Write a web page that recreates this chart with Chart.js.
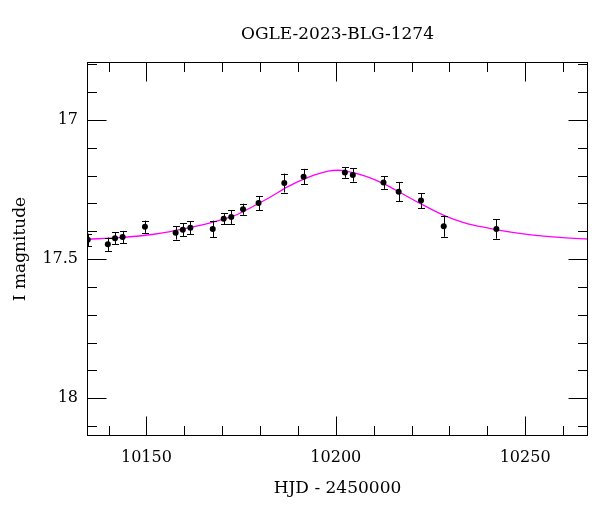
<!DOCTYPE html>
<html><head><meta charset="utf-8">
<script src="https://cdn.jsdelivr.net/npm/chart.js@4"></script>
<style>html,body{margin:0;padding:0;background:#fff}</style>
</head><body>
<canvas id="c" width="600" height="512"></canvas>
<script>
const chartTitle = 'OGLE-2023-BLG-1274';
const xTitle = 'HJD - 2450000';
const yTitle = 'I magnitude';

// observations (HJD - 2450000, I mag, error)
const obsHjd = [10134.5, 10139.8, 10141.7, 10143.7, 10149.6, 10157.7, 10159.6, 10161.6, 10167.5, 10170.4, 10172.4, 10175.5, 10179.6, 10186.4, 10191.5, 10202.4, 10204.5, 10212.6, 10216.6, 10222.5, 10228.5, 10242.4];
const obsMag = [17.431, 17.447, 17.425, 17.421, 17.384, 17.406, 17.395, 17.388, 17.392, 17.355, 17.349, 17.321, 17.299, 17.227, 17.204, 17.189, 17.198, 17.225, 17.258, 17.290, 17.382, 17.392];
const obsErr = [0.022, 0.024, 0.022, 0.022, 0.022, 0.024, 0.023, 0.023, 0.030, 0.020, 0.025, 0.020, 0.025, 0.034, 0.028, 0.019, 0.024, 0.023, 0.035, 0.027, 0.038, 0.035];

// model curve
const modelHjd = [10134.3, 10143, 10152, 10160.5, 10169, 10174, 10178, 10182.5, 10187.5, 10193, 10198, 10200.5, 10203, 10208, 10213, 10217, 10222.5, 10229, 10234, 10238, 10242.5, 10251, 10260, 10266.6];
const modelMag = [17.429, 17.423, 17.411, 17.390, 17.362, 17.340, 17.312, 17.279, 17.239, 17.205, 17.184, 17.181, 17.185, 17.203, 17.232, 17.261, 17.302, 17.346, 17.370, 17.383, 17.395, 17.412, 17.423, 17.428];

const xRange = [10134.3, 10266.6];
const yRange = [16.792, 18.136];
const xSteps = [50, 10];   // major, minor
const ySteps = [0.5, 0.1];

const FONT = 'DejaVu Serif';
const isMult = (v, s) => Math.abs(v / s - Math.round(v / s)) < 1e-6;

const framePlugin = {
  id: 'frame',
  afterDatasetsDraw(chart) {
    const {ctx, chartArea: ca, scales: {x, y}} = chart;
    ctx.save();
    ctx.beginPath();
    ctx.rect(ca.left, ca.top, ca.right - ca.left, ca.bottom - ca.top);
    ctx.clip();
    ctx.strokeStyle = '#000';
    ctx.lineWidth = 1;
    obsHjd.forEach((h, i) => {
      const px = Math.round(x.getPixelForValue(h)) + 0.5;
      const y1 = y.getPixelForValue(obsMag[i] - obsErr[i]);
      const y2 = y.getPixelForValue(obsMag[i] + obsErr[i]);
      ctx.beginPath();
      ctx.moveTo(px, y1); ctx.lineTo(px, y2);
      ctx.moveTo(px - 3.5, Math.round(y1) + 0.5); ctx.lineTo(px + 3.5, Math.round(y1) + 0.5);
      ctx.moveTo(px - 3.5, Math.round(y2) + 0.5); ctx.lineTo(px + 3.5, Math.round(y2) + 0.5);
      ctx.stroke();
    });
    ctx.restore();
  },
  afterDraw(chart) {
    const {ctx, chartArea: ca, scales: {x, y}} = chart;
    const L = Math.round(ca.left) + 0.5, R = Math.round(ca.right) - 0.5;
    const T = Math.round(ca.top) + 0.5, B = Math.round(ca.bottom) - 0.5;
    ctx.save();
    ctx.strokeStyle = '#000';
    ctx.lineWidth = 1;
    ctx.strokeRect(L, T, R - L, B - T);
    ctx.beginPath();
    x.ticks.forEach(t => {
      const major = isMult(t.value, xSteps[0]);
      if (!major && !isMult(t.value, xSteps[1])) return;
      const len = major ? 19 : 9.5;
      const px = Math.round(x.getPixelForValue(t.value)) + 0.5;
      ctx.moveTo(px, B); ctx.lineTo(px, B - len);
      ctx.moveTo(px, T); ctx.lineTo(px, T + len);
    });
    y.ticks.forEach(t => {
      const major = isMult(t.value, ySteps[0]);
      if (!major && !isMult(t.value, ySteps[1])) return;
      const len = major ? 19 : 9.5;
      const py = Math.round(y.getPixelForValue(t.value)) + 0.5;
      ctx.moveTo(L, py); ctx.lineTo(L + len, py);
      ctx.moveTo(R, py); ctx.lineTo(R - len, py);
    });
    ctx.stroke();
    ctx.restore();
  }
};

new Chart(document.getElementById('c').getContext('2d'), {
  type: 'scatter',
  data: {
    datasets: [
      {
        type: 'line',
        label: 'model',
        data: modelHjd.map((h, i) => ({x: h, y: modelMag[i]})),
        borderColor: '#ff00ff',
        borderWidth: 1.3,
        pointRadius: 0,
        cubicInterpolationMode: 'monotone',
        fill: false,
        order: 2
      },
      {
        label: 'OGLE I',
        data: obsHjd.map((h, i) => ({x: h, y: obsMag[i]})),
        pointRadius: 3,
        pointBackgroundColor: '#000',
        pointBorderWidth: 0,
        order: 1
      }
    ]
  },
  options: {
    responsive: false,
    animation: false,
    devicePixelRatio: 1,
    layout: {padding: {left: 0, right: 12, top: 0, bottom: 0}},
    plugins: {
      legend: {display: false},
      tooltip: {enabled: false},
      title: {
        display: true, text: chartTitle, fullSize: false, color: '#000',
        font: {family: FONT, size: 17, weight: 'normal'},
        padding: {top: 24, bottom: 17.6}
      }
    },
    scales: {
      x: {
        type: 'linear', position: 'bottom', min: xRange[0], max: xRange[1],
        afterFit(s) { s.height = 76; },
        grid: {display: false, drawTicks: false},
        border: {display: false},
        ticks: {
          stepSize: xSteps[1], autoSkip: false, includeBounds: false, maxRotation: 0,
          padding: 12, color: '#000', font: {family: FONT, size: 16},
          callback: v => isMult(v, xSteps[0]) ? String(Math.round(v)) : ''
        },
        title: {display: true, text: xTitle, color: '#000', font: {family: FONT, size: 17}, padding: {top: 0, bottom: 13}}
      },
      y: {
        type: 'linear', position: 'left', reverse: true, min: yRange[0], max: yRange[1],
        afterFit(s) { s.width = 87; },
        grid: {display: false, drawTicks: false},
        border: {display: false},
        ticks: {
          stepSize: ySteps[1], autoSkip: false, includeBounds: false,
          padding: 9, color: '#000', font: {family: FONT, size: 16},
          callback: v => isMult(v, ySteps[0]) ? String(Math.round(v * 10) / 10) : ''
        },
        title: {display: true, text: yTitle, color: '#000', font: {family: FONT, size: 17}, padding: {top: 10, bottom: 0}}
      }
    }
  },
  plugins: [framePlugin]
});
</script>
</body></html>
